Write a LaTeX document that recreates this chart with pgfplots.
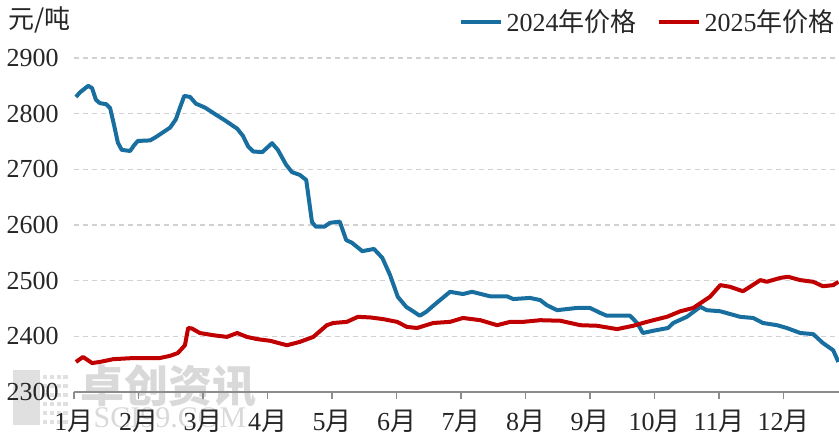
\documentclass[border=0pt]{standalone}
\usepackage{fontspec}
\setmainfont{Liberation Serif}
\newfontfamily\cjk{Noto Sans CJK SC}
\usepackage{pgfplots}
\pgfplotsset{compat=1.18}
\definecolor{c24}{RGB}{24,110,158}
\definecolor{c25}{RGB}{192,0,0}
\begin{document}
\begin{tikzpicture}
% watermark (behind)
\fill[black!12] (-30.5pt,-16.5pt) rectangle (-17pt,11pt);
\foreach \i in {0,...,3}{\foreach \j in {0,...,5}{\fill[black!12] ({-15.5pt+\i*3.4pt},{-16pt+\j*4.5pt}) rectangle ++(2.2pt,2.2pt);}}
\node[text=black!15, font=\cjk\fontsize{22}{22}\selectfont\bfseries] at (47pt,3pt) {卓创资讯};
\node[text=black!15, font=\fontsize{15}{15}\selectfont] at (48pt,-13pt) {SCI99.COM};
\begin{axis}[
  scale only axis, width=382.5pt, height=167pt,
  xmin=0, xmax=11.86, ymin=2300, ymax=2900,
  xtick={0,...,11},
  xticklabels={1{\cjk 月},2{\cjk 月},3{\cjk 月},4{\cjk 月},5{\cjk 月},6{\cjk 月},7{\cjk 月},8{\cjk 月},9{\cjk 月},10{\cjk 月},11{\cjk 月},12{\cjk 月}},
  ytick={2300,2400,...,2900},
  axis x line*=bottom, axis y line*=left,
  y axis line style={draw=none},
  x axis line style={draw=black!45, line width=0.8pt},
  xtick align=outside, major tick length=3.5pt,
  xtick style={draw=black!45, line width=0.8pt},
  ytick style={draw=none},
  ymajorgrids,
  grid style={dash pattern=on 2.5pt off 2pt, draw=black!18, line width=0.6pt},
  tick label style={font=\fontsize{13}{15}\selectfont, text=black!85},
  yticklabel style={inner sep=0pt, xshift=-7.5pt},
  xticklabel style={inner sep=0pt, yshift=-5.5pt},
  /pgf/number format/assume math mode=true,
  /pgf/number format/1000 sep={},
  legend columns=-1,
  legend image code/.code={\draw[#1, line width=2pt] (0pt,0pt) -- (20pt,0pt);},
  legend style={at={(1,1)}, anchor=east, yshift=18pt, draw=none, fill=none, inner sep=0pt,
    font=\fontsize{13}{15}\selectfont, text=black!85,
    /tikz/every even column/.append style={column sep=8pt}},
]
\addplot[c24, line width=2pt, line join=round] coordinates {
(0.03,2830)(0.09,2838)(0.22,2850)(0.28,2846)(0.34,2825)(0.40,2819)(0.50,2817)(0.56,2810)(0.62,2780)(0.68,2748)(0.74,2735)(0.87,2733)(0.93,2743)(0.99,2751)(1.18,2752)(1.27,2758)(1.49,2775)(1.58,2790)(1.64,2810)(1.71,2832)(1.80,2830)(1.89,2818)(2.03,2811)(2.19,2799)(2.34,2788)(2.53,2773)(2.62,2760)(2.70,2741)(2.78,2732)(2.92,2731)(3.07,2747)(3.16,2735)(3.29,2708)(3.38,2695)(3.50,2690)(3.60,2681)(3.69,2605)(3.75,2597)(3.88,2597)(3.97,2604)(4.12,2606)(4.22,2573)(4.31,2568)(4.47,2553)(4.65,2557)(4.78,2541)(4.90,2510)(5.02,2471)(5.15,2453)(5.27,2444)(5.36,2437)(5.46,2444)(5.58,2456)(5.83,2480)(6.03,2476)(6.17,2480)(6.45,2472)(6.71,2472)(6.81,2467)(7.07,2469)(7.23,2465)(7.33,2456)(7.49,2447)(7.64,2449)(7.80,2451)(8.00,2451)(8.16,2442)(8.26,2437)(8.62,2437)(8.73,2424)(8.82,2406)(8.98,2410)(9.21,2415)(9.29,2424)(9.50,2435)(9.71,2453)(9.81,2447)(10.02,2445)(10.33,2435)(10.53,2433)(10.68,2424)(10.90,2420)(11.05,2415)(11.26,2406)(11.46,2404)(11.61,2388)(11.77,2375)(11.85,2354)
};
\addlegendentry{2024{\cjk 年价格}}
\addplot[c25, line width=2pt, line join=round] coordinates {
(0.03,2354)(0.14,2363)(0.28,2352)(0.40,2354)(0.61,2359)(0.92,2361)(1.33,2361)(1.49,2365)(1.61,2370)(1.72,2384)(1.77,2415)(1.83,2414)(1.95,2406)(2.16,2402)(2.37,2399)(2.53,2406)(2.68,2399)(2.84,2395)(3.04,2392)(3.30,2384)(3.50,2390)(3.71,2399)(3.92,2420)(4.02,2424)(4.23,2426)(4.40,2435)(4.59,2434)(4.79,2431)(5.01,2426)(5.16,2417)(5.32,2415)(5.57,2424)(5.83,2426)(6.03,2433)(6.30,2429)(6.56,2420)(6.76,2426)(6.96,2426)(7.23,2429)(7.54,2428)(7.85,2420)(8.11,2419)(8.42,2413)(8.67,2419)(8.88,2426)(9.19,2435)(9.40,2445)(9.60,2451)(9.86,2471)(10.02,2492)(10.17,2489)(10.37,2481)(10.48,2489)(10.64,2501)(10.74,2498)(10.95,2505)(11.07,2507)(11.26,2501)(11.46,2498)(11.61,2490)(11.77,2492)(11.85,2498)
};
\addlegendentry{2025{\cjk 年价格}}
\end{axis}
\node[anchor=west, inner sep=0pt, text=black!85, font=\cjk\fontsize{13}{15}\selectfont] at (-33pt,186pt) {元/吨};
\pgfresetboundingbox
\path[use as bounding box] (-37pt,-21pt) rectangle (382.5pt,196pt);
\end{tikzpicture}
\end{document}
